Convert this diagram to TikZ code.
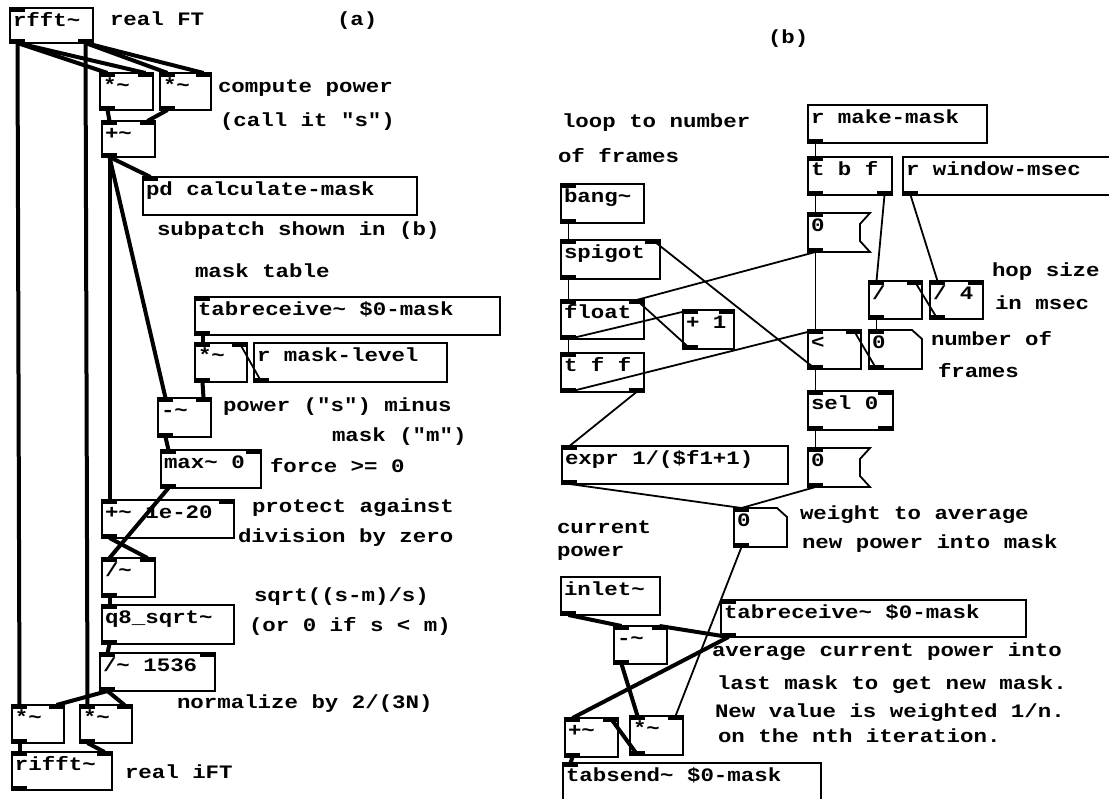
\documentclass[tikz,border=0pt]{standalone}
\usepackage{fontspec}
\newfontfamily\pdfont{Liberation Mono}[FakeStretch=1.18]
\usetikzlibrary{calc}
\newcommand\tld{\char"7E\relax}
\tikzset{
  pdtext/.style={font=\pdfont\bfseries\fontsize{19}{24}\selectfont},
  pdobj/.style={pdtext, draw, line width=1.8pt, anchor=north west, inner xsep=3pt,
    inner ysep=0pt, outer sep=0pt, text height=18.5pt},
  pdatom/.style={pdobj, draw=none},
  boxline/.style={line width=1.8pt, line join=miter},
  cmt/.style={pdtext, anchor=base west, inner sep=0pt, outer sep=0pt},
  sig/.style={line width=4pt},
  ctl/.style={line width=1.8pt},
}
\newcommand\pdbox[7][pdobj]{%
  \pgfmathsetmacro\pdw{#5-#3-6}%
  \pgfmathsetmacro\pdd{#6-#4-18.5}%
  \node[#1, text depth=\pdd pt] (#2) at (#3,#4) {\makebox[\pdw pt][l]{#7}};
  \coordinate (#2-iL) at ($(#2.north west)+(7.5,0)$);
  \coordinate (#2-iR) at ($(#2.north east)+(-7.5,0)$);
  \coordinate (#2-oL) at ($(#2.south west)+(7.5,0)$);
  \coordinate (#2-oR) at ($(#2.south east)+(-7.5,0)$);
}
\newcommand\pdiL[1]{\fill (#1.north west) rectangle ++(15,4);}
\newcommand\pdiR[1]{\fill (#1.north east) rectangle ++(-15,4);}
\newcommand\pdoL[1]{\fill (#1.south west) rectangle ++(15,-4);}
\newcommand\pdoR[1]{\fill (#1.south east) rectangle ++(-15,-4);}
\newcommand\pdstd[1]{\pdiL{#1}\pdiR{#1}\pdoL{#1}}
\newcommand\msgshape[1]{\draw[boxline] (#1.north west) -- (#1.north east) -- ($(#1.north east)+(-10,11)$) -- ($(#1.south east)+(-10,-11)$) -- (#1.south east) -- (#1.south west) -- cycle;}
\newcommand\atomshape[1]{\draw[boxline] (#1.north west) -- ($(#1.north east)+(-10,0)$) -- ($(#1.north east)+(0,9)$) -- (#1.south east) -- (#1.south west) -- cycle;}
\begin{document}
\begin{tikzpicture}[x=1pt,y=-1pt]
\fill[white] (0,0) rectangle (1109,799);
\useasboundingbox (0,0) rectangle (1109,799);
% ---------------- panel (a) ----------------
\pdbox{rfft}{10}{8}{93}{43}{rfft\tld}
\pdiL{rfft}\pdoL{rfft}\pdoR{rfft}
\pdbox{mulA}{100}{73}{153}{110}{*\tld}\pdstd{mulA}
\pdbox{mulB}{160}{73}{211}{110}{*\tld}\pdstd{mulB}
\pdbox{addA}{102}{121}{155}{157}{+\tld}\pdstd{addA}
\pdbox{pdcalc}{143}{177}{417}{215}{pd calculate-mask}\pdiL{pdcalc}
\pdbox{tabrecA}{195}{297}{500}{335}{tabreceive\tld{} \$0-mask}\pdiL{tabrecA}\pdoL{tabrecA}
\pdbox{mulM}{195}{343}{247}{382}{*\tld}\pdstd{mulM}
\pdbox{rml}{254}{343}{447}{382}{r mask-level}\pdoL{rml}
\pdbox{subA}{158}{398}{211}{437}{-\tld}\pdstd{subA}
\pdbox{max}{161}{450}{261}{488}{max\tld{} 0}\pdstd{max}
\pdbox{add20}{102}{500}{234}{538}{+\tld{} 1e-20}\pdstd{add20}
\pdbox{divA}{102}{558}{155}{597}{/\tld}\pdstd{divA}
\pdbox{sqrt}{102}{605}{234}{644}{q8\char"5F\relax sqrt\tld}\pdiL{sqrt}\pdoL{sqrt}
\pdbox{div1536}{100}{653}{215}{691}{/\tld{} 1536}\pdstd{div1536}
\pdbox{mulL}{12}{705}{64}{743}{*\tld}\pdstd{mulL}
\pdbox{mulR}{80}{705}{132}{743}{*\tld}\pdstd{mulR}
\pdbox{rifft}{12}{752}{112}{790}{rifft\tld}\pdstd{rifft}
% comments (a)
\node[cmt] (c1) at (110,26) {real FT};
\node[cmt] (c2) at (337,26) {(a)};
\node[cmt] (c3) at (218,93) {compute power};
\node[cmt] (c4) at (220,127) {(call it "s")};
\node[cmt] (c5) at (157,236) {subpatch shown in (b)};
\node[cmt] (c6) at (195,278) {mask table};
\node[cmt] (c7) at (223,412) {power ("s") minus};
\node[cmt] (c8) at (332,442) {mask ("m")};
\node[cmt] (c9) at (270,472) {force >= 0};
\node[cmt] (c10) at (252,512) {protect against};
\node[cmt] (c11) at (238,542) {division by zero};
\node[cmt] (c12) at (254,601) {sqrt((s-m)/s)};
\node[cmt] (c13) at (249,631) {(or 0 if s < m)};
\node[cmt] (c14) at (177,708) {normalize by 2/(3N)};
\node[cmt] (c15) at (125,778) {real iFT};
% connections (a)
\draw[sig] (rfft-oL) -- (mulL-iL);
\draw[sig] (rfft-oR) -- (mulR-iL);
\draw[sig] (rfft-oL) -- (mulA-iL);
\draw[sig] (rfft-oL) -- (mulA-iR);
\draw[sig] (rfft-oR) -- (mulB-iL);
\draw[sig] (rfft-oR) -- (mulB-iR);
\draw[sig] (mulA-oL) -- (addA-iL);
\draw[sig] (mulB-oL) -- (addA-iR);
\draw[sig] (addA-oL) -- (pdcalc-iL);
\draw[sig] (addA-oL) -- (subA-iL);
\draw[sig] (addA-oL) -- (add20-iL);
\draw[sig] (tabrecA-oL) -- (mulM-iL);
\draw[ctl] (rml-oL) -- (mulM-iR);
\draw[sig] (mulM-oL) -- (subA-iR);
\draw[sig] (subA-oL) -- (max-iL);
\draw[sig] (max-oL) -- (divA-iL);
\draw[sig] (add20-oL) -- (divA-iR);
\draw[sig] (divA-oL) -- (sqrt-iL);
\draw[sig] (sqrt-oL) -- (div1536-iL);
\draw[sig] (div1536-oL) -- (mulL-iR);
\draw[sig] (div1536-oL) -- (mulR-iR);
\draw[sig] (mulL-oL) -- (rifft-iL);
\draw[sig] (mulR-oL) -- (rifft-iR);
% ---------------- panel (b) ----------------
\pdbox{rmm}{808}{105}{987}{143}{r make-mask}\pdoL{rmm}
\pdbox{tbf}{808}{157}{892}{195}{t b f}\pdiL{tbf}\pdoL{tbf}\pdoR{tbf}
\pdbox{rwm}{903}{157}{1115}{195}{r window-msec}\pdoL{rwm}
\pdbox[pdatom]{msgA}{808}{213}{870}{252}{0}\msgshape{msgA}\pdiL{msgA}\pdoL{msgA}
\pdbox{divB}{869}{281}{922}{319}{/}\pdstd{divB}
\pdbox{div4}{930}{281}{983}{319}{/ 4}\pdstd{div4}
\pdbox{lt}{808}{330}{861}{369}{<}\pdstd{lt}
\pdbox[pdatom]{numA}{869}{330}{922}{369}{0}\atomshape{numA}\pdiL{numA}\pdoL{numA}
\pdbox{bang}{561}{184}{644}{223}{bang\tld}\pdiL{bang}\pdoL{bang}
\pdbox{spigot}{561}{240}{660}{279}{spigot}\pdstd{spigot}
\pdbox{float}{561}{300}{644}{339}{float}\pdstd{float}
\pdbox{plus1}{683}{310}{734}{349}{+ 1}\pdstd{plus1}
\pdbox{tff}{561}{353}{644}{392}{t f f}\pdiL{tff}\pdoL{tff}\pdoR{tff}
\pdbox{expr}{562}{446}{788}{484}{expr 1/(\$f1+1)}\pdiL{expr}\pdoL{expr}
\pdbox{sel}{808}{391}{893}{430}{sel 0}\pdstd{sel}\pdoR{sel}
\pdbox[pdatom]{msgB}{808}{448}{870}{487}{0}\msgshape{msgB}\pdiL{msgB}\pdoL{msgB}
\pdbox[pdatom]{numW}{734}{508}{787}{547}{0}\atomshape{numW}\pdiL{numW}\pdoL{numW}
\pdbox{inlet}{561}{577}{660}{615}{inlet\tld}\pdoL{inlet}
\pdbox{tabrecB}{721}{600}{1026}{637}{tabreceive\tld{} \$0-mask}\pdiL{tabrecB}\pdoL{tabrecB}
\pdbox{subB}{614}{626}{667}{664}{-\tld}\pdstd{subB}
\pdbox{addB}{565}{718}{618}{757}{+\tld}\pdstd{addB}
\pdbox{mulC}{630}{716}{683}{755}{*\tld}\pdstd{mulC}
\pdbox{tabsend}{563}{763}{821}{802}{tabsend\tld{} \$0-mask}\pdiL{tabsend}
% comments (b)
\node[cmt] (d1) at (768,44) {(b)};
\node[cmt] (d2) at (562,128) {loop to number};
\node[cmt] (d3) at (558,163) {of frames};
\node[cmt] (d4) at (992,277) {hop size};
\node[cmt] (d5) at (995,310) {in msec};
\node[cmt] (d6) at (931,346) {number of};
\node[cmt] (d7) at (938,378) {frames};
\node[cmt] (d8) at (800,519) {weight to average};
\node[cmt] (d9) at (802,548) {new power into mask};
\node[cmt] (d10) at (557,533) {current};
\node[cmt] (d11) at (557,556) {power};
\node[cmt] (d12) at (712,656) {average current power into};
\node[cmt] (d13) at (717,689) {last mask to get new mask.};
\node[cmt] (d14) at (715,717) {New value is weighted 1/n.};
\node[cmt] (d15) at (718,742) {on the nth iteration.};
% connections (b)
\draw[ctl] (rmm-oL) -- (tbf-iL);
\draw[ctl] (tbf-oL) -- (msgA-iL);
\draw[ctl] (tbf-oR) -- (divB-iL);
\draw[ctl] (rwm-oL) -- (div4-iL);
\draw[ctl] (div4-oL) -- (divB-iR);
\draw[ctl] (divB-oL) -- (numA-iL);
\draw[ctl] (numA-oL) -- (lt-iR);
\draw[ctl] (msgA-oL) -- (lt-iL);
\draw[ctl] (msgA-oL) -- (float-iR);
\draw[ctl] (bang-oL) -- (spigot-iL);
\draw[ctl] (spigot-oL) -- (float-iL);
\draw[ctl] (float-oL) -- (tff-iL);
\draw[ctl] (float-oL) -- (plus1-iL);
\draw[ctl] (plus1-oL) -- (float-iR);
\draw[ctl] (lt-oL) -- (spigot-iR);
\draw[ctl] (lt-oL) -- (sel-iL);
\draw[ctl] (tff-oL) -- (lt-iL);
\draw[ctl] (tff-oR) -- (expr-iL);
\draw[ctl] (sel-oL) -- (msgB-iL);
\draw[ctl] (expr-oL) -- (numW-iL);
\draw[ctl] (msgB-oL) -- (numW-iL);
\draw[sig] (inlet-oL) -- (subB-iL);
\draw[sig] (tabrecB-oL) -- (subB-iR);
\draw[sig] (tabrecB-oL) -- (addB-iL);
\draw[ctl] (numW-oL) -- (mulC-iR);
\draw[sig] (subB-oL) -- (mulC-iL);
\draw[sig] (mulC-oL) -- (addB-iR);
\draw[sig] (addB-oL) -- (tabsend-iL);
\end{tikzpicture}
\end{document}
